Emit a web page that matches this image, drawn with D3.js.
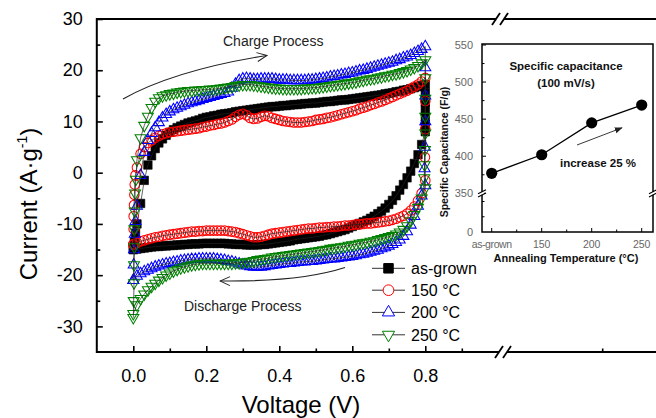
<!DOCTYPE html>
<html><head><meta charset="utf-8">
<script src="https://cdn.jsdelivr.net/npm/d3@7"></script>
<style>body{margin:0;background:#fff}svg{display:block}text{font-family:Arial,"Liberation Sans",sans-serif}</style>
</head><body><svg id="c" width="656" height="418"></svg>
<script>
// ---------- data ----------
const voltage = [0,0.01,0.02,0.03,0.04,0.05,0.06,0.07,0.08,0.09,
0.1,0.11,0.12,0.13,0.14,0.15,0.16,0.17,0.18,0.19,
0.2,0.21,0.22,0.23,0.24,0.25,0.26,0.27,0.28,0.29,
0.3,0.31,0.32,0.33,0.34,0.35,0.36,0.37,0.38,0.39,
0.4,0.41,0.42,0.43,0.44,0.45,0.46,0.47,0.48,0.49,
0.5,0.51,0.52,0.53,0.54,0.55,0.56,0.57,0.58,0.59,
0.6,0.61,0.62,0.63,0.64,0.65,0.66,0.67,0.68,0.69,
0.7,0.71,0.72,0.73,0.74,0.75,0.76,0.77,0.78,0.79,0.8];

const asGrownCharge = [-15,-10,-6,-1.5,1.5,3.3,4.7,5.8,6.6,7.3,
7.9,8.4,8.8,9.1,9.4,9.7,9.9,10.1,10.3,10.6,
10.8,10.9,11.1,11.2,11.4,11.5,11.6,11.7,11.9,12.0,
12.1,12.2,12.3,12.4,12.5,12.6,12.7,12.8,12.9,12.9,
13.0,13.1,13.1,13.2,13.3,13.3,13.4,13.5,13.5,13.6,
13.6,13.7,13.8,13.9,13.9,14.0,14.1,14.2,14.2,14.3,
14.4,14.5,14.6,14.7,14.8,14.9,15.0,15.1,15.2,15.4,
15.5,15.6,15.8,15.9,16.1,16.2,16.4,16.6,16.8,17.0,17.2];
const asGrownDischarge = [-15,-14.9,-14.8,-14.7,-14.6,-14.5,-14.4,-14.4,-14.3,-14.3,
-14.2,-14.2,-14.1,-14.1,-14.0,-14.0,-13.9,-13.9,-13.9,-13.8,
-13.8,-13.8,-13.8,-13.8,-13.8,-13.8,-13.9,-13.9,-14.0,-14.0,
-14.0,-14.1,-14.1,-14.1,-14.1,-14.0,-14.0,-13.9,-13.8,-13.7,
-13.6,-13.5,-13.4,-13.3,-13.1,-13.0,-12.9,-12.8,-12.7,-12.6,
-12.5,-12.4,-12.2,-12.1,-11.9,-11.7,-11.5,-11.3,-11.1,-10.8,
-10.5,-10.2,-9.9,-9.6,-9.3,-8.9,-8.5,-8.0,-7.5,-6.9,
-6.2,-5.4,-4.5,-3.4,-2.3,-1.0,0.3,1.8,3.5,5.5,8.0];
const asGrownRise = [[0.003,-13.5],[0.006,-11.8]];
const asGrownTurn = [[0.8,15.5],[0.8,13.8],[0.8,12.3],[0.8,10.9],[0.8,9.4]];

const c150Charge = [-14,1.0,3.7,5.0,5.8,6.3,6.8,7.2,7.5,7.7,
7.9,8.0,8.1,8.2,8.3,8.4,8.5,8.6,8.7,8.9,
9.0,9.2,9.3,9.5,9.6,9.8,10.1,10.4,10.9,11.3,
11.5,11.2,10.7,10.5,10.6,10.9,11.1,11.0,10.7,10.5,
10.3,10.1,10.0,9.9,9.8,9.8,9.8,9.9,10.0,10.1,
10.3,10.4,10.5,10.7,10.8,11.0,11.2,11.4,11.6,11.8,
12.0,12.2,12.5,12.7,12.9,13.2,13.4,13.7,13.9,14.2,
14.5,14.8,15.1,15.4,15.7,16.0,16.4,16.8,17.2,17.8,18.5];
const c150Discharge = [-14.0,-13.7,-13.4,-13.2,-13.0,-12.8,-12.6,-12.5,-12.3,-12.2,
-12.1,-12.0,-11.9,-11.8,-11.7,-11.6,-11.5,-11.5,-11.4,-11.4,
-11.3,-11.3,-11.3,-11.3,-11.3,-11.3,-11.4,-11.5,-11.6,-11.8,
-12.0,-12.2,-12.4,-12.6,-12.6,-12.5,-12.3,-12.1,-11.9,-11.8,
-11.7,-11.6,-11.5,-11.4,-11.3,-11.2,-11.1,-11.0,-10.9,-10.9,
-10.8,-10.7,-10.7,-10.6,-10.6,-10.5,-10.5,-10.4,-10.3,-10.3,
-10.2,-10.1,-10.1,-10.0,-9.9,-9.9,-9.8,-9.7,-9.6,-9.5,
-9.4,-9.2,-9.0,-8.7,-8.4,-8.0,-7.4,-6.6,-5.5,-4.0,-1.5];
const c150Rise = [[0.001,-11],[0.001,-8.5],[0.002,-6.3],[0.003,-4.3],[0.004,-2.3],[0.006,-0.5]];
const c150Turn = [[0.8,14],[0.8,8.5],[0.799,3]];

const c200Charge = [-21,-6.5,-0.5,4.0,6.3,7.7,8.8,9.8,10.7,11.4,
11.9,12.3,12.6,12.9,13.2,13.5,13.7,13.9,14.1,14.3,
14.5,14.7,14.9,15.1,15.3,15.5,15.8,16.5,17.3,18.0,
18.3,18.4,18.3,18.2,18.2,18.3,18.3,18.3,18.3,18.2,
18.1,18.1,18.1,18.0,18.0,18.0,18.0,18.0,18.1,18.1,
18.2,18.3,18.4,18.5,18.7,18.8,18.9,19.1,19.2,19.4,
19.5,19.7,19.9,20.0,20.2,20.4,20.6,20.8,21.0,21.2,
21.4,21.6,21.9,22.1,22.4,22.6,22.9,23.3,23.7,24.1,24.6];
const c200Discharge = [-21.0,-20.2,-19.7,-19.3,-19.0,-18.7,-18.4,-18.2,-18.0,-17.8,
-17.7,-17.5,-17.4,-17.2,-17.1,-17.0,-16.9,-16.9,-16.8,-16.8,
-16.8,-16.8,-16.8,-16.9,-17.0,-17.1,-17.3,-17.4,-17.6,-17.8,
-18.0,-18.2,-18.3,-18.4,-18.4,-18.4,-18.3,-18.2,-18.1,-18.0,
-17.9,-17.8,-17.7,-17.7,-17.6,-17.5,-17.4,-17.4,-17.3,-17.3,
-17.2,-17.1,-17.0,-16.9,-16.8,-16.8,-16.7,-16.6,-16.5,-16.4,
-16.3,-16.2,-16.0,-15.9,-15.7,-15.5,-15.3,-15.1,-14.8,-14.6,
-14.3,-14.0,-13.6,-13.1,-12.4,-11.5,-10.2,-8.5,-6.5,-4.5,-2.5];
const c200Rise = [[0.001,-18],[0.002,-15],[0.004,-12],[0.006,-9.5]];
const c200Turn = [[0.8,20.5],[0.8,15],[0.8,10],[0.799,5],[0.798,0.8]];

const c250Charge = [-28.3,2.5,6.8,9.2,11.0,12.7,13.9,14.6,15.0,15.2,
15.4,15.5,15.7,15.8,15.9,16.0,16.0,16.1,16.1,16.2,
16.2,16.3,16.3,16.4,16.5,16.6,16.7,16.8,17.0,17.1,
17.2,17.2,17.2,17.1,17.0,16.9,16.8,16.7,16.6,16.5,
16.5,16.4,16.4,16.4,16.4,16.4,16.4,16.5,16.5,16.6,
16.6,16.7,16.8,16.9,17.0,17.1,17.2,17.3,17.4,17.5,
17.6,17.7,17.9,18.0,18.2,18.3,18.4,18.6,18.7,18.9,
19.0,19.2,19.3,19.5,19.7,19.9,20.2,20.5,20.9,21.4,22.0];
const c250Discharge = [-27.5,-25.8,-24.6,-23.7,-22.9,-22.2,-21.6,-21.0,-20.5,-20.0,
-19.6,-19.2,-18.9,-18.6,-18.4,-18.2,-18.0,-17.9,-17.8,-17.7,
-17.7,-17.7,-17.7,-17.7,-17.7,-17.7,-17.7,-17.7,-17.6,-17.6,
-17.5,-17.4,-17.3,-17.2,-17.0,-16.9,-16.8,-16.7,-16.5,-16.4,
-16.3,-16.2,-16.1,-16.0,-15.9,-15.8,-15.7,-15.6,-15.5,-15.4,
-15.3,-15.2,-15.1,-15.0,-14.8,-14.7,-14.6,-14.5,-14.4,-14.2,
-14.1,-14.0,-13.8,-13.7,-13.6,-13.4,-13.3,-13.1,-12.9,-12.7,
-12.5,-12.3,-12.0,-11.6,-11.1,-10.4,-9.4,-8.2,-6.8,-5.0,-3.0];
const c250Rise = [[0.001,-25],[0.002,-21.5],[0.002,-18],[0.003,-14.5],[0.003,-11],[0.004,-7.5],[0.005,-4],[0.007,-1.3]];
const c250Turn = [[0.8,18.5],[0.8,14.5],[0.8,11],[0.8,7.7],[0.799,4.5],[0.798,1.5],[0.797,-1]];

const seriesNames = ["as-grown", "150 \u00B0C", "200 \u00B0C", "250 \u00B0C"];
const xTicks = [0, 0.2, 0.4, 0.6, 0.8];
const xMinorTicks = [0.1, 0.3, 0.5, 0.7, 0.9];
const yTicks = [-30, -20, -10, 0, 10, 20, 30];
const yMinorTicks = [-25, -15, -5, 5, 15, 25];

const annealCategories = ["as-grown", "150", "200", "250"];
const specificCapacitance = [377, 402, 445, 469];
const capTicks = [350, 400, 450, 500, 550];
const capMinorTicks = [375, 425, 475, 525];

// ---------- chart ----------
const svg = d3.select("#c");
const defs = svg.append("defs");
defs.append("marker").attr("id","openArrow").attr("viewBox","0 0 12 12").attr("refX",11).attr("refY",6)
  .attr("markerWidth",12).attr("markerHeight",12).attr("markerUnits","userSpaceOnUse").attr("orient","auto")
  .append("path").attr("d","M1,1.5 L11,6 L1,10.5").attr("fill","none").attr("stroke","#222").attr("stroke-width",1);
defs.append("marker").attr("id","fillArrow").attr("viewBox","0 0 10 10").attr("refX",9).attr("refY",5)
  .attr("markerWidth",8).attr("markerHeight",8).attr("markerUnits","userSpaceOnUse").attr("orient","auto")
  .append("path").attr("d","M0,1 L10,5 L0,9 Z").attr("fill","#222");

const x = d3.scaleLinear().domain([-0.1, 0.9]).range([96.8, 461.8]);
const y = d3.scaleLinear().domain([-35, 30]).range([352, 19]);

const colors = ["#000000", "#ff0000", "#0000ff", "#008000"];
const symbols = [
  {type: d3.symbolSquare, size: 72, fill: "#000", rot: 0},
  {type: d3.symbolCircle, size: 72, fill: "none", rot: 0},
  {type: d3.symbolTriangle, size: 52, fill: "none", rot: 0},
  {type: d3.symbolTriangle, size: 52, fill: "none", rot: 180}
];

function buildLoop(charge, rise, turn, discharge) {
  const pts = [[voltage[0], charge[0]], ...rise];
  for (let i = 1; i < voltage.length; i++) pts.push([voltage[i], charge[i]]);
  pts.push(...turn);
  for (let i = voltage.length - 1; i >= 0; i--) pts.push([voltage[i], discharge[i]]);
  return pts;
}
const loops = [
  buildLoop(asGrownCharge, asGrownRise, asGrownTurn, asGrownDischarge),
  buildLoop(c150Charge, c150Rise, c150Turn, c150Discharge),
  buildLoop(c200Charge, c200Rise, c200Turn, c200Discharge),
  buildLoop(c250Charge, c250Rise, c250Turn, c250Discharge)
];

const line = d3.line().x(d => x(d[0])).y(d => y(d[1]));
const plot = svg.append("g");
loops.forEach((pts, k) => {
  const g = plot.append("g");
  const sym = symbols[k];
  const gen = d3.symbol().type(sym.type).size(sym.size);
  g.selectAll("path.m").data(pts).join("path").attr("class","m")
    .attr("d", gen)
    .attr("transform", d => `translate(${x(d[0])},${y(d[1])}) rotate(${sym.rot})`)
    .attr("fill", sym.fill === "none" ? "none" : colors[k])
    .attr("stroke", colors[k]).attr("stroke-width", k === 0 ? 0.6 : 1.05);
  g.append("path").datum(pts).attr("d", line).attr("fill","none")
    .attr("stroke", "#222").attr("stroke-width", 0.7);
});

// axes
const axisColor = "#000";
const yAxisG = svg.append("g").attr("transform", `translate(${x(-0.1)},0)`)
  .call(d3.axisLeft(y).tickValues(yTicks).tickSizeInner(-6).tickSizeOuter(0).tickPadding(14).tickFormat(d => String(d)));
yAxisG.select(".domain").remove();
yAxisG.selectAll("text").attr("font-size", 18).attr("fill", axisColor).attr("font-family", "Arial, 'Liberation Sans', sans-serif");
yAxisG.selectAll("line").attr("stroke-width", 1.6);
const yMinorG = svg.append("g").attr("transform", `translate(${x(-0.1)},0)`)
  .call(d3.axisLeft(y).tickValues(yMinorTicks).tickSizeInner(-3.5).tickSizeOuter(0).tickFormat(""));
yMinorG.select(".domain").remove();
yMinorG.selectAll("line").attr("stroke-width", 1.6);

const xAxisG = svg.append("g").attr("transform", `translate(0,${y(-35)})`)
  .call(d3.axisBottom(x).tickValues(xTicks).tickSizeInner(-6).tickSizeOuter(0).tickPadding(17).tickFormat(d => d.toFixed(1)));
xAxisG.select(".domain").remove();
xAxisG.selectAll("text").attr("font-size", 18).attr("fill", axisColor).attr("font-family", "Arial, 'Liberation Sans', sans-serif");
xAxisG.selectAll("line").attr("stroke-width", 1.6);
const xMinorG = svg.append("g").attr("transform", `translate(0,${y(-35)})`)
  .call(d3.axisBottom(x).tickValues(xMinorTicks).tickSizeInner(-3.5).tickSizeOuter(0).tickFormat(""));
xMinorG.select(".domain").remove();
xMinorG.selectAll("line").attr("stroke-width", 1.6);

const x0 = x(-0.1), yTop = y(30), yBot = y(-35);
const frame = svg.append("g").attr("stroke", "#000").attr("stroke-width", 2).attr("fill", "none");
frame.append("line").attr("x1", x0).attr("x2", x0).attr("y1", yTop - 1).attr("y2", yBot + 1);
frame.append("line").attr("x1", x0).attr("x2", 656).attr("y1", yTop).attr("y2", yTop);
frame.append("line").attr("x1", x0).attr("x2", 656).attr("y1", yBot).attr("y2", yBot);
frame.append("line").attr("x1", 602.7).attr("x2", 602.7).attr("y1", yBot).attr("y2", yBot - 3.5).attr("stroke-width", 1.6);

function axisBreak(cx, cy) {
  const b = svg.append("g");
  b.append("rect").attr("x", cx - 4).attr("y", cy - 2).attr("width", 8).attr("height", 4).attr("fill", "#fff");
  [-4, 4].forEach(dx => b.append("line").attr("x1", cx + dx - 4).attr("y1", cy + 6).attr("x2", cx + dx + 4).attr("y2", cy - 6)
    .attr("stroke", "#000").attr("stroke-width", 1.8));
}
axisBreak(500, yTop);
axisBreak(503, yBot);

// axis titles
svg.append("text").attr("x", 301).attr("y", 413).attr("text-anchor", "middle").attr("font-size", 24).attr("fill", "#000").text("Voltage (V)");
const yt = svg.append("text").attr("transform", "translate(37,204) rotate(-90)").attr("text-anchor", "middle").attr("font-size", 24).attr("fill", "#000");
yt.append("tspan").text("Current (A\u00B7g");
yt.append("tspan").attr("font-size", 14).attr("dy", -10).text("-1");
yt.append("tspan").attr("dy", 10).text(")");

// process annotations
svg.append("text").attr("x", 223).attr("y", 46).attr("font-size", 14).attr("fill", "#222").text("Charge Process");
svg.append("path").attr("d", "M123,99 Q175,70 267,55.5").attr("fill", "none").attr("stroke", "#222").attr("stroke-width", 1.1).attr("marker-end", "url(#openArrow)");
svg.append("text").attr("x", 184).attr("y", 311).attr("font-size", 14).attr("fill", "#222").text("Discharge Process");
svg.append("path").attr("d", "M345,267.5 Q300,282 220,281").attr("fill", "none").attr("stroke", "#222").attr("stroke-width", 1.1).attr("marker-end", "url(#openArrow)");

// legend
const legendY = [268.3, 290.2, 312.4, 334.8];
const legend = svg.append("g");
seriesNames.forEach((name, k) => {
  const ly = legendY[k];
  legend.append("line").attr("x1", 372).attr("x2", 405).attr("y1", ly).attr("y2", ly).attr("stroke", "#333").attr("stroke-width", 1);
  const sym = symbols[k];
  legend.append("path").attr("d", d3.symbol().type(sym.type).size(sym.size * 1.25)())
    .attr("transform", `translate(388.5,${ly}) rotate(${sym.rot})`)
    .attr("fill", sym.fill === "none" ? "#fff" : colors[k]).attr("stroke", colors[k]).attr("stroke-width", 1);
  legend.append("text").attr("x", 411).attr("y", ly + 6).attr("font-size", 16).attr("fill", "#000").text(name);
});

// ---------- inset ----------
const ix = d3.scalePoint().domain(annealCategories).range([491.7, 641.7]);
const iy = d3.scaleLinear().domain([350, 550]).range([193.3, 45]);
const iyLow = d3.scaleLinear().domain([0, 200]).range([232, 201.5]);
const inset = svg.append("g");
const iL = 482, iR = 653, iT = 44, iB = 232;
inset.append("rect").attr("x", iL).attr("y", iT).attr("width", iR - iL).attr("height", iB - iT)
  .attr("fill", "none").attr("stroke", "#000").attr("stroke-width", 1.5);
capTicks.forEach(v => {
  inset.append("line").attr("x1", iL).attr("x2", iL + 4).attr("y1", iy(v)).attr("y2", iy(v)).attr("stroke", "#000").attr("stroke-width", 1);
  inset.append("text").attr("x", 473).attr("y", iy(v) + 4).attr("text-anchor", "end").attr("font-size", 11).attr("fill", "#666").text(v);
});
capMinorTicks.forEach(v => inset.append("line").attr("x1", iL).attr("x2", iL + 2.5).attr("y1", iy(v)).attr("y2", iy(v)).attr("stroke", "#000").attr("stroke-width", 1));
[100, 200].forEach(v => inset.append("line").attr("x1", iL).attr("x2", iL + 2.5).attr("y1", iyLow(v)).attr("y2", iyLow(v)).attr("stroke", "#000").attr("stroke-width", 1));
inset.append("text").attr("x", 473).attr("y", iyLow(0) + 4).attr("text-anchor", "end").attr("font-size", 11).attr("fill", "#666").text("0");
annealCategories.forEach((c, i) => {
  const px = ix(c);
  inset.append("line").attr("x1", px).attr("x2", px).attr("y1", iB).attr("y2", iB - 4).attr("stroke", "#000").attr("stroke-width", 1);
  if (i < annealCategories.length - 1) {
    const mx = (px + ix(annealCategories[i + 1])) / 2;
    inset.append("line").attr("x1", mx).attr("x2", mx).attr("y1", iB).attr("y2", iB - 2.5).attr("stroke", "#000").attr("stroke-width", 1);
  }
  inset.append("text").attr("x", px).attr("y", 248).attr("text-anchor", "middle").attr("font-size", 10.5)
    .attr("letter-spacing", c === "as-grown" ? -0.4 : 0).attr("fill", "#666").text(c);
});
[iL, iR].forEach(bx => {
  const by = 193.3;
  inset.append("rect").attr("x", bx - 2).attr("y", by - 1.5).attr("width", 4).attr("height", 3).attr("fill", "#fff");
  [-1.6, 1.6].forEach(dy => inset.append("line").attr("x1", bx - 4).attr("y1", by + dy + 2).attr("x2", bx + 4).attr("y2", by + dy - 2)
    .attr("stroke", "#000").attr("stroke-width", 1.1));
});
const capPts = annealCategories.map((c, i) => [ix(c), iy(specificCapacitance[i])]);
inset.append("path").attr("d", d3.line()(capPts)).attr("fill", "none").attr("stroke", "#000").attr("stroke-width", 1.3);
inset.selectAll("circle.cp").data(capPts).join("circle").attr("class", "cp").attr("cx", d => d[0]).attr("cy", d => d[1]).attr("r", 5.6).attr("fill", "#000");
inset.append("text").attr("x", 566).attr("y", 70).attr("text-anchor", "middle").attr("font-size", 11.5).attr("font-weight", "bold").attr("fill", "#111").text("Specific capacitance");
inset.append("text").attr("x", 566).attr("y", 86.5).attr("text-anchor", "middle").attr("font-size", 11.5).attr("font-weight", "bold").attr("fill", "#111").text("(100 mV/s)");
inset.append("text").attr("x", 560).attr("y", 166.5).attr("font-size", 11.5).attr("font-weight", "bold").attr("fill", "#111").text("increase 25 %");
inset.append("line").attr("x1", 577).attr("y1", 145).attr("x2", 622).attr("y2", 127.8).attr("stroke", "#222").attr("stroke-width", 0.9).attr("marker-end", "url(#fillArrow)");
inset.append("text").attr("x", 566).attr("y", 261.5).attr("text-anchor", "middle").attr("font-size", 11).attr("font-weight", "bold").attr("fill", "#111").text("Annealing Temperature (\u00B0C)");
inset.append("text").attr("transform", "translate(448,152) rotate(-90)").attr("text-anchor", "middle").attr("font-size", 10.5).attr("font-weight", "bold").attr("fill", "#111").text("Specific Capacitance (F/g)");
</script></body></html>
